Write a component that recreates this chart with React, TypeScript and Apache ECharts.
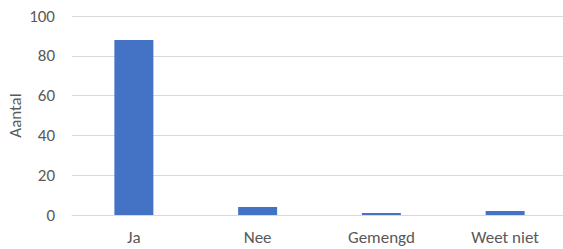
import React, { useEffect, useRef } from "react";
import * as echarts from "echarts";

const categories = ["Ja", "Nee", "Gemengd", "Weet niet"];
const counts = [88, 4, 1, 2];
const yAxisTitle = "Aantal";

export default function App() {
  const ref = useRef<HTMLDivElement>(null);
  useEffect(() => {
    if (!ref.current) return;
    const chart = echarts.init(ref.current, null, { renderer: "svg" });
    const font = "Carlito, 'Open Sans', 'Liberation Sans', sans-serif";
    chart.setOption({
      animation: false,
      grid: {
        left: 72,
        top: 16,
        width: 495,
        height: 199,
        containLabel: false,
        outerBoundsMode: "none",
      },
      xAxis: {
        type: "category",
        data: categories,
        axisLine: { show: true, lineStyle: { color: "#D9D9D9", width: 1 } },
        axisTick: { show: false },
        axisLabel: { color: "#595959", fontSize: 17, fontFamily: font, margin: 14 },
      },
      yAxis: {
        type: "value",
        min: 0,
        max: 100,
        interval: 20,
        name: yAxisTitle,
        nameLocation: "middle",
        nameGap: 57,
        nameRotate: 90,
        nameMoveOverlap: false,
        nameTextStyle: { color: "#595959", fontSize: 17, fontFamily: font, verticalAlign: "middle" },
        axisLine: { show: false },
        axisTick: { show: false },
        axisLabel: { color: "#595959", fontSize: 17, fontFamily: font, margin: 17 },
        splitLine: { lineStyle: { color: "#D9D9D9", width: 1 } },
      },
      series: [
        {
          type: "bar",
          data: counts,
          barWidth: "31.5%",
          itemStyle: { color: "#4472C4" },
        },
      ],
    });
    return () => chart.dispose();
  }, []);
  return (
    <div
      ref={ref}
      style={{ position: "fixed", left: 0, top: 0, width: 563, height: 249, background: "#fff" }}
    />
  );
}
